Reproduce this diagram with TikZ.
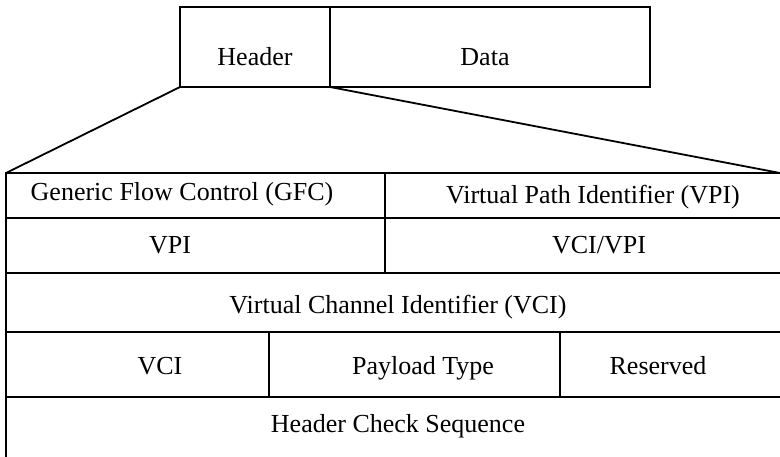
\documentclass[tikz,border=0pt]{standalone}
\usepackage{fontspec}
\setmainfont{Liberation Serif}
\usetikzlibrary{positioning}
\tikzset{
    cellbox/.style={rectangle, minimum height=80pt, inner sep=0pt, outer sep=0pt, draw=black, line width=1.8pt},
    field/.style={inner sep=0pt, anchor=base, font=\fontsize{26}{30}\selectfont},
    rule/.style={line width=1.8pt, color=black}
}

\begin{document}
\begin{tikzpicture}[x=1pt, y=-1pt]
    \useasboundingbox (0,0) rectangle (780,456);
    \clip (0,0) rectangle (780,456);

    % Cell - header and data
    \node (header) [cellbox, minimum width=150pt, anchor=north west] at (180,7) {};
    \node (data) [cellbox, minimum width=320pt, right=0pt of header] {};
    \node (headertext) [field] at ([yshift=-18pt]header.center) {Header};
    \node (datatext) [field] at ([xshift=-5pt, yshift=-18pt]data.center) {Data};

    % Header fields - frame runs past the right and bottom edge
    \coordinate (tl) at (6,173);
    \coordinate (tr) at (780,173);
    \draw [rule] (800,173) -- (tl) -- (6,470);
    \foreach \y in {218,273,332,397}
        \draw [rule] (6,\y) -- (800,\y);
    \draw [rule] (385,173) -- (385,273);
    \draw [rule] (269,332) -- (269,397);
    \draw [rule] (560,332) -- (560,397);

    % Zoom lines
    \draw [rule] (header.south west) -- (tl);
    \draw [rule] (header.south east) -- (tr);

    % Field labels
    \node (gfc) [field] at (182,200) {Generic Flow Control (GFC)};
    \node (vpi) [field] at (593,203) {Virtual Path Identifier (VPI)};
    \node (vpilow) [field] at (170,253) {VPI};
    \node (vcivpi) [field] at (599,253) {VCI/VPI};
    \node (vci) [field] at (398,313) {Virtual Channel Identifier (VCI)};
    \node (vcilow) [field] at (160,374) {VCI};
    \node (payload) [field] at (423,374) {Payload Type};
    \node (reserved) [field] at (658,374) {Reserved};
    \node (hcs) [field] at (398,432) {Header Check Sequence};
\end{tikzpicture}
\end{document}
